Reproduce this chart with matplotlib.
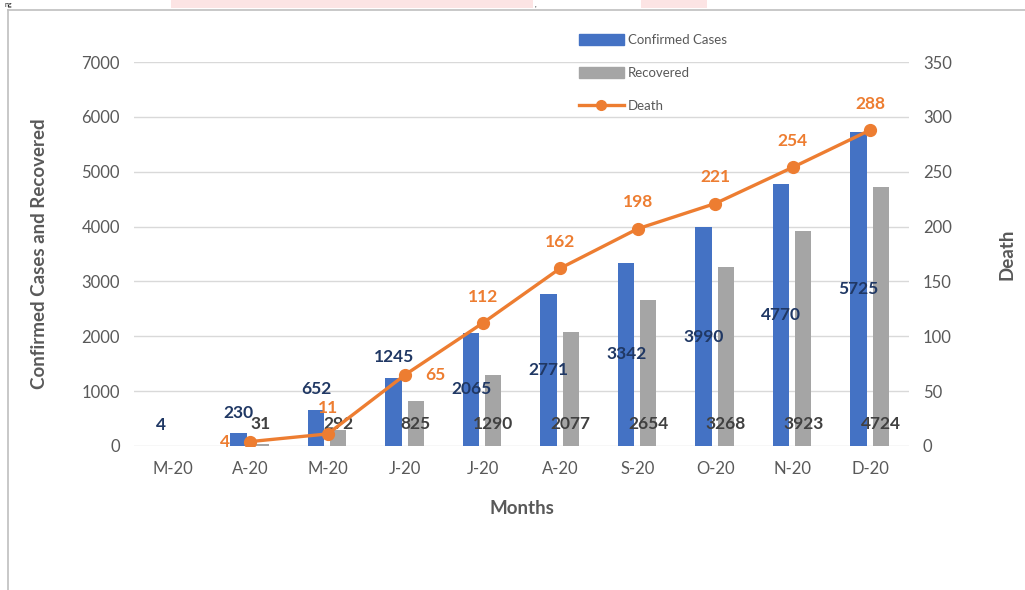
# COVID-19 monthly cases, recoveries and deaths (combo chart)

import matplotlib.pyplot as plt
import numpy as np
from matplotlib.lines import Line2D
from matplotlib.patches import Patch, Rectangle

plt.rcParams['font.family'] = ['Lato', 'DejaVu Sans']

# data
months = ['M-20', 'A-20', 'M-20', 'J-20', 'J-20', 'A-20', 'S-20', 'O-20', 'N-20', 'D-20']
confirmed = [4, 230, 652, 1245, 2065, 2771, 3342, 3990, 4770, 5725]
recovered = [np.nan, 31, 292, 825, 1290, 2077, 2654, 3268, 3923, 4724]
death = [np.nan, 4, 11, 65, 112, 162, 198, 221, 254, 288]

blue = '#4472C4'
grey = '#A5A5A5'
orange = '#ED7D31'
txt = '#595959'

fig = plt.figure(figsize=(10.25, 5.9), dpi=100)
ax = fig.add_axes([0.1307, 0.2441, 0.7561, 0.6508])
ax2 = ax.twinx()

x = np.arange(len(months))
w = 0.21
ax.bar(x - 0.15, confirmed, w, color=blue, zorder=2)
ax.bar(x + 0.135, recovered, w, color=grey, zorder=2)

ax.set_ylim(0, 7000)
ax.set_yticks(np.arange(0, 7001, 1000))
ax.set_xlim(-0.5, len(months) - 0.5)
ax.set_xticks(x)
ax.set_xticklabels(months)
ax.grid(axis='y', color='#D9D9D9', lw=1, zorder=0)
ax.set_axisbelow(True)
for s in ax.spines.values():
    s.set_visible(False)
for s in ax2.spines.values():
    s.set_visible(False)
ax.tick_params(length=0, labelsize=12, labelcolor=txt)
ax.tick_params(axis='x', pad=11)
ax.tick_params(axis='y', pad=10)

ax2.plot(x, death, color=orange, lw=2.4, marker='o', ms=8.5, zorder=3)
ax2.set_ylim(0, 350)
ax2.set_yticks(np.arange(0, 351, 50))
ax2.tick_params(length=0, labelsize=12, labelcolor=txt, pad=10)

ax.set_xlabel('Months', fontsize=13.5, fontweight='bold', color=txt)
ax.xaxis.set_label_coords(0.5, -0.14)
ax.set_ylabel('Confirmed Cases and Recovered', fontsize=13.5, fontweight='bold', color=txt)
ax.yaxis.set_label_coords(-0.111, 0.5)
ax2.set_ylabel('Death', fontsize=13.5, fontweight='bold', color=txt, rotation=90)
ax2.yaxis.set_label_coords(1.115, 0.5)

# data labels
for i, v in enumerate(confirmed):
    if v < 1500:
        ax.annotate(str(v), (i - 0.15, v), xytext=(0, 15), textcoords='offset points',
                    ha='center', va='center', fontsize=12.5, fontweight='bold',
                    color='#203864', zorder=5)
    else:
        ax.annotate(str(v), (i - 0.15, v / 2), ha='center', va='center',
                    fontsize=12.5, fontweight='bold', color='#203864', zorder=5)
for i, v in enumerate(recovered):
    if np.isnan(v):
        continue
    ax.annotate(str(v), (i + 0.135, 0), xytext=(0, 16), textcoords='offset points',
                ha='center', va='center', fontsize=12.5, fontweight='bold',
                color='#404040', zorder=5)
for i, v in enumerate(death):
    if np.isnan(v):
        continue
    if i == 1:
        off = (-18, 0)
    elif i == 3:
        off = (22, 0)
    else:
        off = (0, 19)
    ax2.annotate(str(v), (i, v), xytext=off, textcoords='offset points',
                 ha='center', va='center', fontsize=12.5, fontweight='bold',
                 color=orange, zorder=5)

handles = [Patch(color=blue), Patch(color=grey),
           Line2D([], [], color=orange, lw=2.4, marker='o', ms=7)]
leg = fig.legend(handles, ['Confirmed Cases', 'Recovered', 'Death'],
                 loc='upper left', bbox_to_anchor=(0.553, 0.963), frameon=False,
                 fontsize=9.5, labelcolor=txt, handlelength=3.4, handleheight=0.9,
                 handletextpad=0.35, labelspacing=1.6)

# page frame and bits of the cropped document around it
fig.add_artist(Line2D([0.008, 0.008], [0, 0.983], color='#BFBFBF', lw=1.2))
fig.add_artist(Line2D([0.008, 1], [0.983, 0.983], color='#BFBFBF', lw=1.2))
fig.add_artist(Rectangle((0.167, 0.986), 0.353, 0.014, color='#FCE4E4', lw=0))
fig.add_artist(Rectangle((0.625, 0.986), 0.065, 0.014, color='#FCE4E4', lw=0))
fig.text(0.004, 0.999, 'ng', fontsize=5, va='top', color='#222222')
fig.text(0.522, 0.999, ',', fontsize=5, va='top', color='#222222')

plt.savefig('out.png', dpi=100)
